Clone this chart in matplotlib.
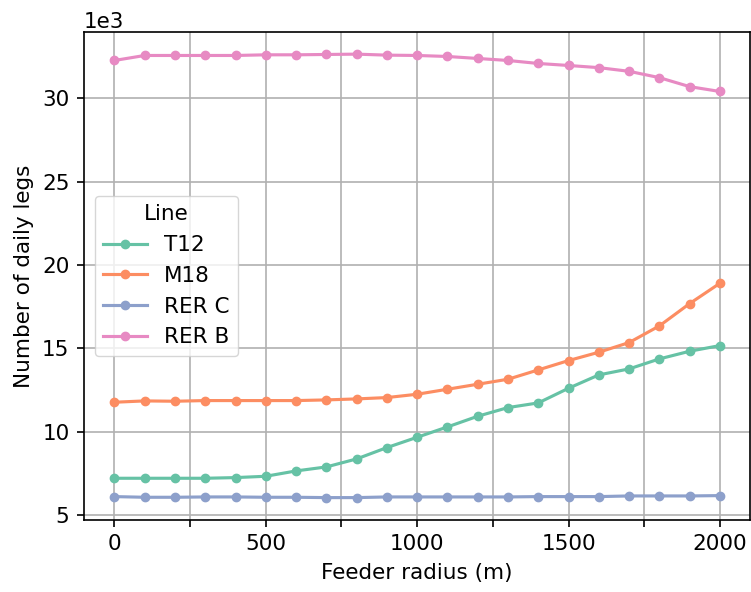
import matplotlib
matplotlib.use("Agg")
import matplotlib.pyplot as plt

radius = list(range(0, 2001, 100))
t12 = [7.20, 7.20, 7.20, 7.20, 7.24, 7.32, 7.64, 7.88, 8.36, 9.04, 9.66, 10.28,
       10.92, 11.44, 11.72, 12.60, 13.40, 13.76, 14.36, 14.82, 15.16]
m18 = [11.76, 11.84, 11.82, 11.86, 11.86, 11.86, 11.86, 11.90, 11.96, 12.04, 12.24,
       12.54, 12.84, 13.14, 13.70, 14.26, 14.76, 15.34, 16.34, 17.68, 18.90]
rerc = [6.10, 6.06, 6.06, 6.08, 6.08, 6.06, 6.06, 6.04, 6.04, 6.08, 6.08, 6.08,
        6.08, 6.08, 6.10, 6.10, 6.10, 6.14, 6.14, 6.14, 6.16]
rerb = [32.26, 32.56, 32.56, 32.56, 32.56, 32.60, 32.60, 32.62, 32.64, 32.58, 32.56,
        32.50, 32.38, 32.26, 32.08, 31.96, 31.83, 31.61, 31.23, 30.69, 30.40]
series = {"T12": t12, "M18": m18, "RER C": rerc, "RER B": rerb}
colors = ["#66c2a5", "#fc8d62", "#8da0cb", "#e78ac3"]
xticks = list(range(0, 2001, 250))
xticklabels = [str(v) if v % 500 == 0 else "" for v in xticks]

s = 1.5
plt.rcParams.update({
    'font.size': 15.5,
    'axes.linewidth': 0.8 * s,
    'xtick.major.width': 0.8 * s,
    'ytick.major.width': 0.8 * s,
    'xtick.major.size': 3.5 * s,
    'ytick.major.size': 3.5 * s,
    'xtick.major.pad': 3.5 * s,
    'ytick.major.pad': 3.5 * s,
    'grid.linewidth': 0.8 * s,
})
fig = plt.figure(figsize=(7.51, 5.92), dpi=100)
ax = fig.add_axes([0.112, 0.122, 0.887, 0.824])
for (name, vals), c in zip(series.items(), colors):
    ax.plot(radius, [v * 1000 for v in vals], marker="o", markersize=4 * s,
            linewidth=1.5 * s, color=c, label=name)
ax.set_xticks(xticks)
ax.set_xticklabels(xticklabels)
ax.ticklabel_format(axis="y", style="sci", scilimits=(3, 3))
ax.grid(True, color="#b0b0b0")
ax.set_axisbelow(True)
ax.set_xlabel("Feeder radius (m)", labelpad=4 * s)
ax.set_ylabel("Number of daily legs", labelpad=4 * s)
ax.legend(title="Line", loc="center left")
fig.savefig("out.png", dpi=100)
